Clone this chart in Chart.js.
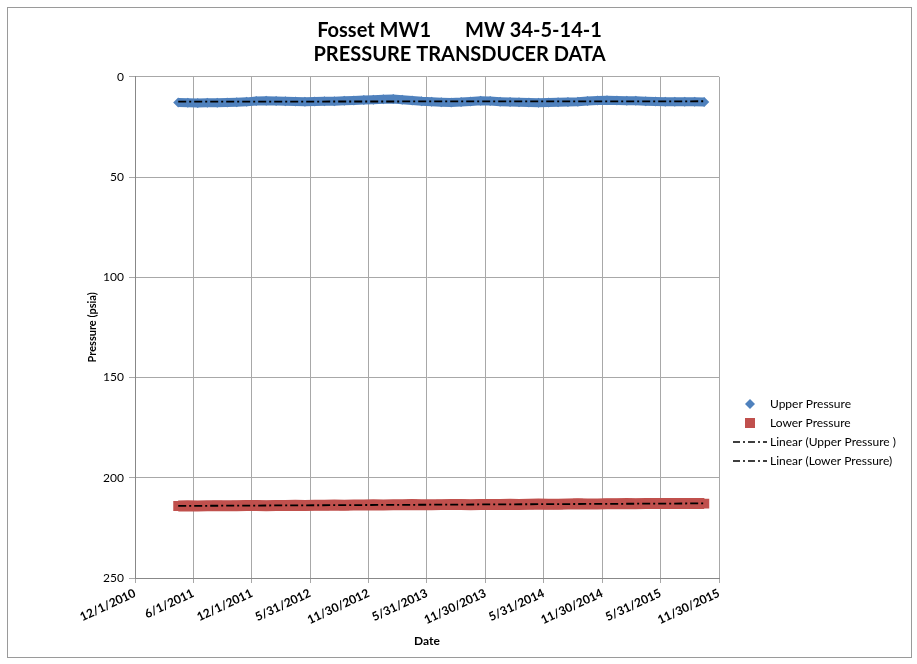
<!DOCTYPE html>
<html>
<head>
<meta charset="utf-8">
<script src="https://cdn.jsdelivr.net/npm/chart.js@4.4.0/dist/chart.umd.min.js"></script>
<style>
  html, body { margin: 0; padding: 0; background: #fff; }
  #frame { position: absolute; left: 7px; top: 7px; width: 903px; height: 649px; border: 1px solid #9a9a9a; }
</style>
</head>
<body>
<div id="frame"><canvas id="chart" width="903" height="649"></canvas></div>
<script>
// Monthly readings (psia)
const sampleDates = [
  "2011-04-15", "2011-05-15", "2011-06-15", "2011-07-15", "2011-08-15", "2011-09-15", "2011-10-15", "2011-11-15", "2011-12-15",
  "2012-01-15", "2012-02-15", "2012-03-15", "2012-04-15", "2012-05-15", "2012-06-15", "2012-07-15", "2012-08-15", "2012-09-15", "2012-10-15", "2012-11-15", "2012-12-15",
  "2013-01-15", "2013-02-15", "2013-03-15", "2013-04-15", "2013-05-15", "2013-06-15", "2013-07-15", "2013-08-15", "2013-09-15", "2013-10-15", "2013-11-15", "2013-12-15",
  "2014-01-15", "2014-02-15", "2014-03-15", "2014-04-15", "2014-05-15", "2014-06-15", "2014-07-15", "2014-08-15", "2014-09-15", "2014-10-15", "2014-11-15", "2014-12-15",
  "2015-01-15", "2015-02-15", "2015-03-15", "2015-04-15", "2015-05-15", "2015-06-15", "2015-07-15", "2015-08-15", "2015-09-15", "2015-10-15"
];

const upperPressure = [
  12.8, 13.0, 13.1, 13.0, 12.9, 12.8, 12.7, 12.5, 12.1,
  12.0, 12.1, 12.2, 12.3, 12.4, 12.3, 12.2, 12.2, 12.0, 11.8, 11.6, 11.4,
  11.2, 11.1, 11.4, 11.8, 12.2, 12.5, 12.7, 12.8, 12.6, 12.3, 12.0, 12.1,
  12.4, 12.6, 12.7, 12.8, 12.9, 12.8, 12.7, 12.6, 12.4, 12.1, 11.8, 11.7,
  11.8, 11.9, 12.0, 12.2, 12.3, 12.4, 12.5, 12.4, 12.5, 12.6
];

const lowerPressure = [
  214.1, 214.0, 214.1, 214.0, 213.9, 214.0, 213.9, 213.8, 213.8,
  213.9, 213.8, 213.8, 213.7, 213.8, 213.7, 213.7, 213.6, 213.7, 213.6, 213.6, 213.5,
  213.6, 213.5, 213.5, 213.4, 213.5, 213.5, 213.4, 213.4, 213.3, 213.4, 213.3, 213.3,
  213.3, 213.2, 213.3, 213.2, 213.1, 213.2, 213.2, 213.1, 213.0, 213.1, 213.1, 213.0,
  213.0, 212.9, 213.0, 212.9, 212.9, 212.8, 212.9, 212.8, 212.8, 212.9
];

const tickLabels = [
  "12/1/2010", "6/1/2011", "12/1/2011", "5/31/2012", "11/30/2012", "5/31/2013",
  "11/30/2013", "5/31/2014", "11/30/2014", "5/31/2015", "11/30/2015"
];

const BLUE = "#4F81BD";
const RED = "#C0504D";
const GRID = "#a8a8a8";

// dates -> day numbers so the linear axis can place them
function isoToDay(s) {
  const p = s.split("-").map(Number);
  return Date.UTC(p[0], p[1] - 1, p[2]) / 86400000;
}
function usToDay(s) {
  const p = s.split("/").map(Number);
  return Date.UTC(p[2], p[0] - 1, p[1]) / 86400000;
}

const days = sampleDates.map(isoToDay);
const tickDays = tickLabels.map(usToDay);

// least squares trendline, like Excel's "Linear" trendline
function linearFit(xs, ys) {
  const n = xs.length;
  const mx = xs.reduce((a, b) => a + b, 0) / n;
  const my = ys.reduce((a, b) => a + b, 0) / n;
  let sxy = 0, sxx = 0;
  for (let i = 0; i < n; i++) {
    sxy += (xs[i] - mx) * (ys[i] - my);
    sxx += (xs[i] - mx) * (xs[i] - mx);
  }
  const slope = sxy / sxx;
  return x => my + slope * (x - mx);
}
function trendPoints(ys) {
  const f = linearFit(days, ys);
  const a = days[0], b = days[days.length - 1];
  return [{ x: a, y: f(a) }, { x: b, y: f(b) }];
}

const toPoints = ys => days.map((d, i) => ({ x: d, y: ys[i] }));

// legend icons
function icon(w, h, draw) {
  const c = document.createElement("canvas");
  c.width = w; c.height = h;
  draw(c.getContext("2d"));
  return c;
}
const diamondIcon = icon(12, 12, ctx => {
  ctx.fillStyle = BLUE;
  ctx.beginPath();
  ctx.moveTo(6, 1); ctx.lineTo(11, 6); ctx.lineTo(6, 11); ctx.lineTo(1, 6);
  ctx.closePath(); ctx.fill();
});
const squareIcon = icon(10, 10, ctx => {
  ctx.fillStyle = RED;
  ctx.fillRect(0, 0, 10, 10);
});
const dashIcon = icon(34, 4, ctx => {
  ctx.strokeStyle = "#000";
  ctx.lineWidth = 1.5;
  ctx.setLineDash([7, 3, 2, 3]);
  ctx.beginPath(); ctx.moveTo(0, 2); ctx.lineTo(34, 2); ctx.stroke();
});

// keep the legend at a fixed width and move it down beside the lower part of the plot
const legendPlacer = {
  id: "legendPlacer",
  beforeLayout(chart) {
    const legend = chart.legend;
    if (legend && !legend._fixedFit) {
      const fit = legend.fit;
      legend.fit = function () { fit.call(this); this.width = 192; };
      legend._fixedFit = true;
    }
  },
  afterLayout(chart) {
    const legend = chart.legend;
    legend.left = 721;
    legend.right = legend.left + 175;
    legend.top = 383;
    legend.bottom = legend.top + legend.height;
  }
};

new Chart(document.getElementById("chart"), {
  type: "scatter",
  plugins: [legendPlacer],
  data: {
    datasets: [
      {
        label: "Upper Pressure",
        data: toPoints(upperPressure),
        showLine: true,
        borderColor: BLUE,
        backgroundColor: BLUE,
        borderWidth: 9,
        pointStyle: "rectRot",
        pointRadius: 5,
        pointBorderWidth: 0,
        order: 2
      },
      {
        label: "Lower Pressure",
        data: toPoints(lowerPressure),
        showLine: true,
        borderColor: RED,
        backgroundColor: RED,
        borderWidth: 11,
        pointStyle: "rect",
        pointRadius: 7,
        pointBorderWidth: 0,
        order: 2
      },
      {
        label: "Linear (Upper Pressure )",
        data: trendPoints(upperPressure),
        showLine: true,
        borderColor: "#000",
        borderWidth: 1.8,
        borderDash: [8, 3, 2, 3],
        pointRadius: 0,
        order: 1
      },
      {
        label: "Linear (Lower Pressure)",
        data: trendPoints(lowerPressure),
        showLine: true,
        borderColor: "#000",
        borderWidth: 1.8,
        borderDash: [8, 3, 2, 3],
        pointRadius: 0,
        order: 1
      }
    ]
  },
  options: {
    responsive: false,
    animation: false,
    layout: { padding: 0 },
    plugins: {
      tooltip: { enabled: false },
      title: {
        display: true,
        text: ["Fosset MW1       MW 34-5-14-1", "PRESSURE TRANSDUCER DATA"],
        color: "#000",
        font: { family: "Lato", size: 20, weight: "bold", lineHeight: 1.22 },
        padding: { top: 10, bottom: 10 }
      },
      legend: {
        position: "right",
        align: "start",
        labels: {
          usePointStyle: true,
          pointStyleWidth: 28,
          padding: 7,
          color: "#000",
          font: { family: "Lato", size: 12 },
          generateLabels: () => [
            { text: "Upper Pressure", pointStyle: diamondIcon, datasetIndex: 0, hidden: false, lineWidth: 0 },
            { text: "Lower Pressure", pointStyle: squareIcon, datasetIndex: 1, hidden: false, lineWidth: 0 },
            { text: "Linear (Upper Pressure )", pointStyle: dashIcon, datasetIndex: 2, hidden: false, lineWidth: 0 },
            { text: "Linear (Lower Pressure)", pointStyle: dashIcon, datasetIndex: 3, hidden: false, lineWidth: 0 }
          ]
        }
      }
    },
    scales: {
      x: {
        type: "linear",
        min: tickDays[0],
        max: tickDays[tickDays.length - 1],
        afterBuildTicks(scale) {
          scale.ticks = tickDays.map(v => ({ value: v }));
        },
        afterFit(scale) { scale.height = 79; },
        ticks: {
          autoSkip: false,
          minRotation: 25,
          maxRotation: 25,
          color: "#000",
          font: { family: "Lato", size: 12, weight: "bold" },
          callback: (v, i) => tickLabels[i]
        },
        grid: { color: GRID, tickLength: 5 },
        border: { color: "#888" },
        title: {
          display: true,
          text: "Date",
          color: "#000",
          font: { family: "Lato", size: 12, weight: "bold" },
          padding: { top: 2, bottom: 9 }
        }
      },
      y: {
        reverse: true,
        min: 0,
        max: 250,
        afterFit(scale) { scale.width = 127; },
        ticks: {
          stepSize: 50,
          padding: 5,
          color: "#000",
          font: { family: "Lato", size: 12 }
        },
        grid: { color: GRID, tickLength: 6 },
        border: { color: "#888" },
        title: {
          display: true,
          text: "Pressure (psia)",
          color: "#000",
          font: { family: "Lato", size: 11, weight: "bold" },
          padding: { top: 78, bottom: 0 }
        }
      }
    }
  }
});
</script>
</body>
</html>
